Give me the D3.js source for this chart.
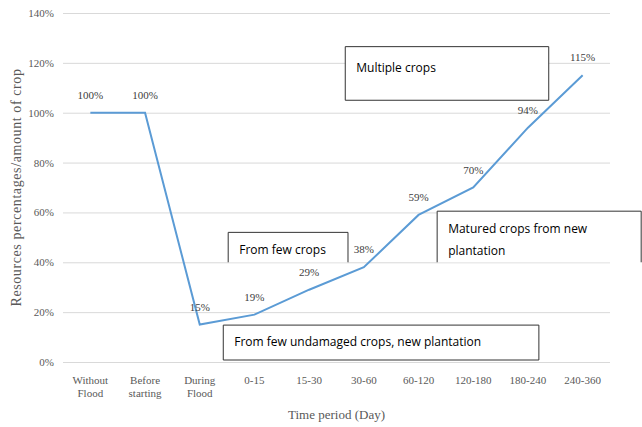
<!DOCTYPE html>
<meta charset="utf-8">
<style>
body { margin: 0; background: #fff; }
.tick text { font: 11px "Liberation Serif", serif; fill: #595959; }
.lbl { font: 11px "Liberation Serif", serif; fill: #404040; }
.note text { font: 12px "Open Sans", "Liberation Sans", sans-serif; fill: #000; }
</style>
<svg width="642" height="427"></svg>
<script src="https://d3js.org/d3.v7.min.js"></script>
<script>
const categories = ["Without Flood", "Before starting", "During Flood", "0-15", "15-30", "30-60", "60-120", "120-180", "180-240", "240-360"];
const values = [100, 100, 15, 19, 29, 38, 59, 70, 94, 115];
const yTicks = [0, 20, 40, 60, 80, 100, 120, 140];
const notes = [
  {text: ["Multiple crops"], x0: 5.16, x1: 8.88, y0: 126.5, y1: 105, bottom: true, dy: 25},
  {text: ["From few crops"], x0: 3.02, x1: 5.21, y0: 52, y1: 40, bottom: false, dy: 22},
  {text: ["Matured crops from new", "plantation"], x0: 6.84, x1: 10.57, y0: 60.5, y1: 40, bottom: false, dy: 22},
  {text: ["From few undamaged crops, new plantation"], x0: 2.93, x1: 8.7, y0: 14.8, y1: 0.8, bottom: true, dy: 21}
];

var svg = d3.select("svg"),
    margin = {top: 13, right: 32, bottom: 65, left: 63},
    width = +svg.attr("width") - margin.left - margin.right,
    height = +svg.attr("height") - margin.top - margin.bottom,
    g = svg.append("g").attr("transform", "translate(" + margin.left + "," + margin.top + ")");

var x = d3.scaleBand().domain(categories).range([0, width]);
var y = d3.scaleLinear().domain([0, 140]).range([height, 0]);
var xc = function(i) { return x(categories[i]) + x.bandwidth() / 2; };
// fractional category position for annotation boxes
var xf = function(f) { return x(categories[0]) + f * x.bandwidth(); };

// grid + y axis
var ya = g.append("g")
  .call(d3.axisLeft(y).tickValues(yTicks).tickSize(-width).tickFormat(function(d) { return d + "%"; }));
ya.select(".domain").remove();
ya.selectAll(".tick line").attr("stroke", "#d9d9d9").attr("stroke-width", 1);
ya.selectAll(".tick text").attr("x", -9);

// x axis labels (no line)
var xa = g.append("g")
  .attr("transform", "translate(0," + height + ")")
  .call(d3.axisBottom(x).tickSize(0));
xa.select(".domain").remove();
xa.selectAll(".tick text").each(function(d) {
  var t = d3.select(this), words = d.split(" ");
  t.text(null).attr("y", 14);
  words.forEach(function(w, i) {
    t.append("tspan").attr("x", 0).attr("dy", i ? "1.2em" : "0.71em").text(w);
  });
});

// line
g.append("path")
  .datum(values)
  .attr("fill", "none")
  .attr("stroke", "#5b9bd5")
  .attr("stroke-width", 2)
  .attr("d", d3.line().x(function(d, i) { return xc(i); }).y(function(d) { return y(d); }));

// data labels
g.selectAll(".lbl")
  .data(values)
  .enter().append("text")
  .attr("class", "lbl")
  .attr("text-anchor", "middle")
  .attr("x", function(d, i) { return xc(i); })
  .attr("y", function(d) { return y(d) - 14; })
  .text(function(d) { return d + "%"; });

// annotation boxes
var defs = svg.append("defs");
notes.forEach(function(d, i) {
  defs.append("clipPath").attr("id", "clip" + i)
    .append("rect")
    .attr("x", xf(d.x0))
    .attr("y", y(d.y0))
    .attr("width", xf(d.x1) - xf(d.x0))
    .attr("height", y(d.y1) - y(d.y0));
});

var note = g.selectAll(".note")
  .data(notes)
  .enter().append("g")
  .attr("class", "note");

note.append("rect")
  .attr("x", function(d) { return xf(d.x0); })
  .attr("y", function(d) { return y(d.y0); })
  .attr("width", function(d) { return xf(d.x1) - xf(d.x0); })
  .attr("height", function(d) { return y(d.y1) - y(d.y0); })
  .attr("fill", "#fff");

note.append("path")
  .attr("fill", "none")
  .attr("stroke", "#333")
  .attr("stroke-width", 1)
  .attr("d", function(d) {
    var a = xf(d.x0), b = xf(d.x1), t = y(d.y0), u = y(d.y1);
    return d.bottom ? "M" + a + "," + t + "H" + b + "V" + u + "H" + a + "Z"
                    : "M" + a + "," + u + "V" + t + "H" + b + "V" + u;
  });

note.each(function(d, k) {
  var s = d3.select(this).append("g").attr("clip-path", "url(#clip" + k + ")");
  d.text.forEach(function(line, i) {
    s.append("text")
      .attr("x", xf(d.x0) + 11)
      .attr("y", y(d.y0) + d.dy + i * 22)
      .text(line);
  });
});

// axis titles
svg.append("text")
  .attr("transform", "translate(21," + (margin.top + height / 2) + ") rotate(-90)")
  .attr("text-anchor", "middle")
  .style("font", "14px 'Liberation Serif', serif")
  .style("letter-spacing", "0.6px")
  .attr("fill", "#595959")
  .text("Resources percentages/amount of crop");

svg.append("text")
  .attr("x", margin.left + width / 2)
  .attr("y", 419)
  .attr("text-anchor", "middle")
  .style("font", "13px 'Liberation Serif', serif")
  .attr("fill", "#595959")
  .text("Time period (Day)");
</script>
